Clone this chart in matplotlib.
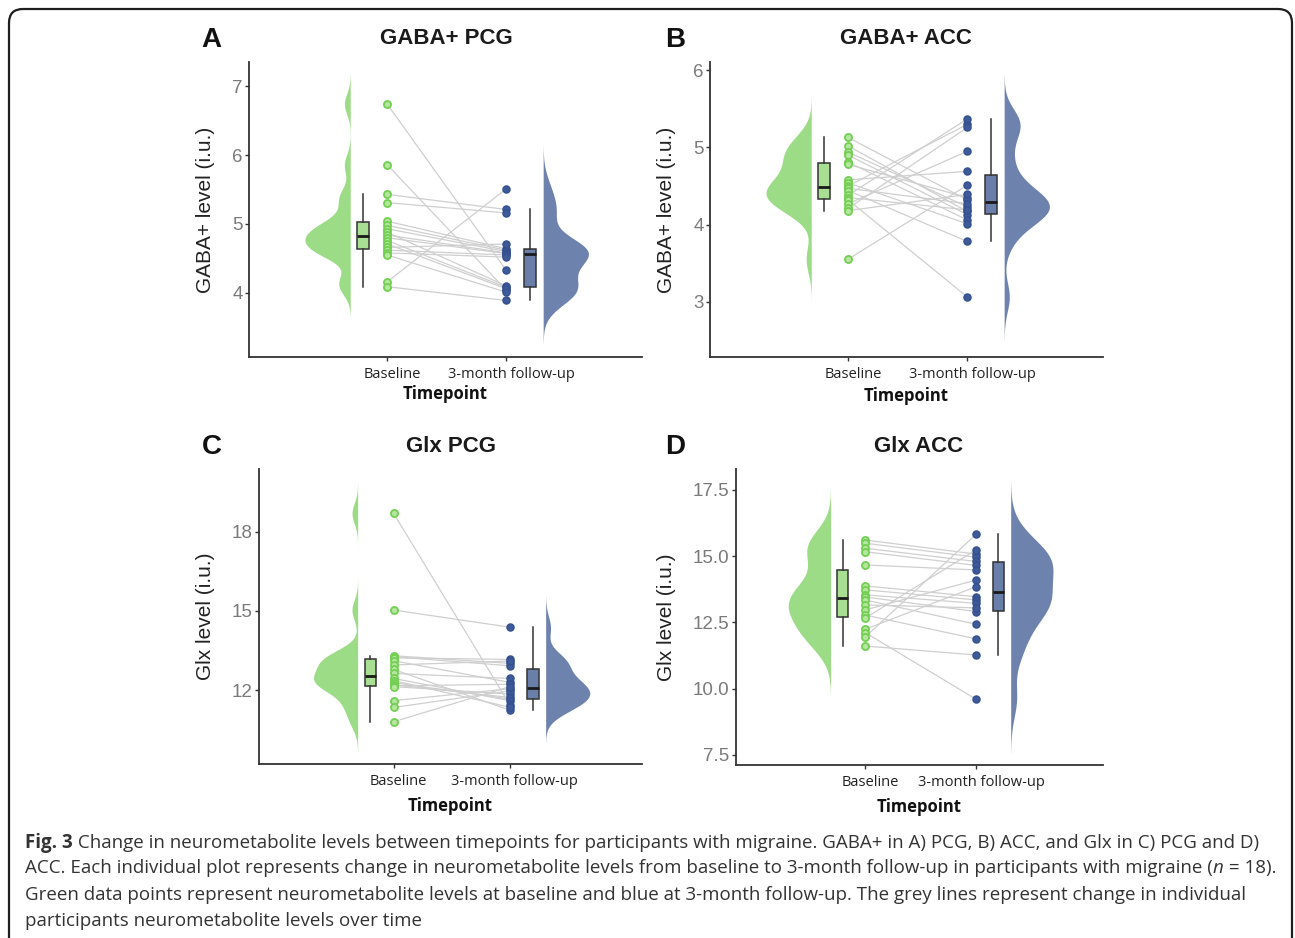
import numpy as np
import matplotlib

matplotlib.use("Agg")
import matplotlib.pyplot as plt
from matplotlib.patches import FancyBboxPatch
from matplotlib.transforms import ScaledTranslation

# ---- data (18 participants, same order in both lists) ----
gaba_pcg_base = [6.74, 5.86, 5.43, 5.31, 5.04, 4.98, 4.93, 4.88, 4.84,
                 4.80, 4.76, 4.71, 4.66, 4.62, 4.58, 4.55, 4.16, 4.09]
gaba_pcg_follow = [4.33, 4.04, 5.21, 5.16, 4.64, 4.62, 4.60, 4.10, 4.58,
                   4.57, 4.08, 4.06, 4.71, 4.55, 4.52, 4.01, 5.51, 3.89]

gaba_acc_base = [5.13, 5.02, 4.94, 4.90, 4.81, 4.78, 4.58, 4.54, 4.50,
                 4.47, 4.44, 4.38, 4.35, 4.32, 4.27, 4.21, 4.18, 3.55]
gaba_acc_follow = [4.32, 4.17, 4.23, 4.13, 4.06, 4.35, 4.69, 4.01, 5.30,
                   4.27, 3.78, 5.37, 4.19, 3.06, 4.95, 5.26, 4.39, 4.51]

glx_pcg_base = [18.69, 15.03, 13.30, 13.26, 13.22, 13.11, 12.95, 12.78, 12.63,
                12.44, 12.36, 12.28, 12.20, 12.16, 12.13, 11.60, 11.34, 10.80]
glx_pcg_follow = [11.45, 14.38, 13.01, 12.92, 13.16, 12.29, 13.10, 11.24, 12.44,
                  11.60, 11.35, 11.66, 11.72, 12.22, 11.85, 12.05, 11.97, 12.13]

glx_acc_base = [15.61, 15.49, 15.30, 15.17, 14.67, 13.88, 13.73, 13.54, 13.46,
                13.35, 13.16, 12.97, 12.78, 12.66, 12.24, 12.12, 11.94, 11.61]
glx_acc_follow = [15.08, 14.96, 14.80, 14.65, 14.48, 13.47, 13.35, 13.22, 12.91,
                  12.43, 13.05, 14.10, 11.88, 15.24, 13.85, 9.60, 15.83, 11.27]

letters = ["A", "B", "C", "D"]
titles = ["GABA+ PCG", "GABA+ ACC", "Glx PCG", "Glx ACC"]
ylabels = ["GABA+ level (i.u.)", "GABA+ level (i.u.)", "Glx level (i.u.)", "Glx level (i.u.)"]
yticks = [[4, 5, 6, 7], [3, 4, 5, 6], [12, 15, 18], [7.5, 10.0, 12.5, 15.0, 17.5]]
ytick_labels = [["4", "5", "6", "7"], ["3", "4", "5", "6"], ["12", "15", "18"],
                ["7.5", "10.0", "12.5", "15.0", "17.5"]]
timepoints = ["Baseline", "3-month follow-up"]

caption = [
    [("Fig. 3", "bold"), (" Change in neurometabolite levels between timepoints for participants "
                          "with migraine. GABA+ in A) PCG, B) ACC, and Glx in C) PCG and D)", "normal")],
    [("ACC. Each individual plot represents change in neurometabolite levels from baseline to "
      "3-month follow-up in participants with migraine (", "normal"), ("n", "italic"), (" = 18).", "normal")],
    [("Green data points represent neurometabolite levels at baseline and blue at 3-month "
      "follow-up. The grey lines represent change in individual", "normal")],
    [("participants neurometabolite levels over time", "normal")],
]

W, H = 1295, 938
GREEN_DENS = "#9cdc86"
GREEN_BOX = "#a9df92"
GREEN_PT = "#72cf52"
BLUE_DENS = "#6e82ae"
BLUE_BOX = "#6a7eaa"
BLUE_PT = "#3e5a99"

plt.rcParams["font.family"] = ["Liberation Sans", "DejaVu Sans"]


def bw_nrd0(x):
    x = np.asarray(x)
    sd = x.std(ddof=1)
    q75, q25 = np.percentile(x, [75, 25])
    lo = min(sd, (q75 - q25) / 1.34)
    return 0.9 * lo * len(x) ** -0.2


def kde(x, n=512):
    x = np.asarray(x)
    bw = bw_nrd0(x)
    grid = np.linspace(x.min() - 3 * bw, x.max() + 3 * bw, n)
    d = np.exp(-0.5 * ((grid[:, None] - x[None, :]) / bw) ** 2).sum(axis=1)
    return grid, d / d.max()


def box(ax, data, pos, color):
    ax.boxplot([data], positions=[pos], widths=0.1, showfliers=False, showcaps=False,
               patch_artist=True, manage_ticks=False,
               boxprops=dict(facecolor=color, edgecolor="#333333", linewidth=1.1),
               whiskerprops=dict(color="#333333", linewidth=1.1),
               medianprops=dict(color="#1a1a1a", linewidth=2.0), zorder=2)


fig = plt.figure(figsize=(W / 100, H / 100), dpi=100)

# background layer in pixel coordinates for frame, letters, titles and caption
bg = fig.add_axes([0, 0, 1, 1])
bg.set_xlim(0, W)
bg.set_ylim(H, 0)
bg.axis("off")
bg.add_patch(FancyBboxPatch((9, 9), 1283, 980, boxstyle="round,pad=0,rounding_size=14",
                            fill=False, linewidth=1.6, edgecolor="#1e1e1e"))

# axes boxes in pixels: left, right, top, bottom
boxes = [(249, 642, 62, 357), (710, 1103, 62, 357), (259, 642, 469, 764), (736, 1103, 469, 765)]
ylims = [(3.07, 7.35), (2.28, 6.11), (9.2, 20.37), (7.12, 18.29)]
letter_xy = [(211, 40), (675, 40), (212, 447), (675, 447)]
title_xy = [(446, 38), (906, 38), (451, 446), (919, 446)]
ylabel_x = [215, 676, 215, 676]
xlabel_y = [394, 396, 806, 807]

series = [(gaba_pcg_base, gaba_pcg_follow), (gaba_acc_base, gaba_acc_follow),
          (glx_pcg_base, glx_pcg_follow), (glx_acc_base, glx_acc_follow)]

for i, (base, follow) in enumerate(series):
    l, r, t, b = boxes[i]
    ax = fig.add_axes([l / W, 1 - b / H, (r - l) / W, (b - t) / H])
    ax.patch.set_alpha(0)

    # half violins
    g, d = kde(base)
    ax.fill_betweenx(g, 0.69 - 0.38 * d, 0.69, color=GREEN_DENS, linewidth=0, zorder=1)
    g, d = kde(follow)
    ax.fill_betweenx(g, 2.31, 2.31 + 0.38 * d, color=BLUE_DENS, linewidth=0, zorder=1)

    box(ax, base, 0.80, GREEN_BOX)
    box(ax, follow, 2.20, BLUE_BOX)

    for y0, y1 in zip(base, follow):
        ax.plot([1, 2], [y0, y1], color="#cfcfcf", linewidth=0.9, zorder=2)
    ax.scatter(np.ones(len(base)), base, s=26, facecolor="#b5e6a0", edgecolor=GREEN_PT,
               linewidth=1.3, zorder=3)
    ax.scatter(np.full(len(follow), 2), follow, s=26, facecolor=BLUE_PT, edgecolor="#34508f",
               linewidth=1.0, zorder=3)

    ax.set_xlim(-0.16, 3.14)
    ax.set_ylim(*ylims[i])
    ax.set_yticks(yticks[i], ytick_labels[i])
    ax.set_xticks([1, 2], timepoints)
    for s in ("top", "right"):
        ax.spines[s].set_visible(False)
    for s in ("left", "bottom"):
        ax.spines[s].set_color("#333333")
        ax.spines[s].set_linewidth(1.3)
    ax.tick_params(axis="y", length=3, width=1.0, color="#333333", pad=1.5,
                   labelsize=13.5, labelcolor="#7a7a7a")
    ax.tick_params(axis="x", length=3, width=1.0, color="#333333", pad=4,
                   labelsize=10.5, labelcolor="#222222")
    for lab in ax.get_xticklabels():
        lab.set_fontfamily("Open Sans")
        lab.set_transform(lab.get_transform() + ScaledTranslation(0.05, 0, fig.dpi_scale_trans))

    ax.set_ylabel(ylabels[i], fontsize=15, color="#222222")
    ax.yaxis.set_label_coords((ylabel_x[i] - l) / (r - l), 0.5)
    ax.set_xlabel("Timepoint", fontsize=12, fontweight="bold", fontfamily="Open Sans",
                  color="#111111", va="center")
    ax.xaxis.set_label_coords(0.5, (b - xlabel_y[i]) / (b - t))

    bg.text(*letter_xy[i], letters[i], fontsize=20, fontweight="bold", ha="center", va="center",
            color="#111111")
    bg.text(*title_xy[i], titles[i], fontsize=16, fontweight="bold", ha="center", va="center",
            color="#1a1a1a")

# caption, one run of text after another
renderer = fig.canvas.get_renderer()
line_y = [843, 868, 895, 921]
for y, runs in zip(line_y, caption):
    x = 25
    for text, style in runs:
        kw = dict(fontsize=13.5, fontfamily="Open Sans", color="#333333", va="center", ha="left")
        if style == "bold":
            kw["fontweight"] = "bold"
        if style == "italic":
            kw["fontstyle"] = "italic"
        txt = bg.text(x, y, text, **kw)
        bb = txt.get_window_extent(renderer=renderer)
        x += bb.width

fig.savefig("out.png", dpi=100)
